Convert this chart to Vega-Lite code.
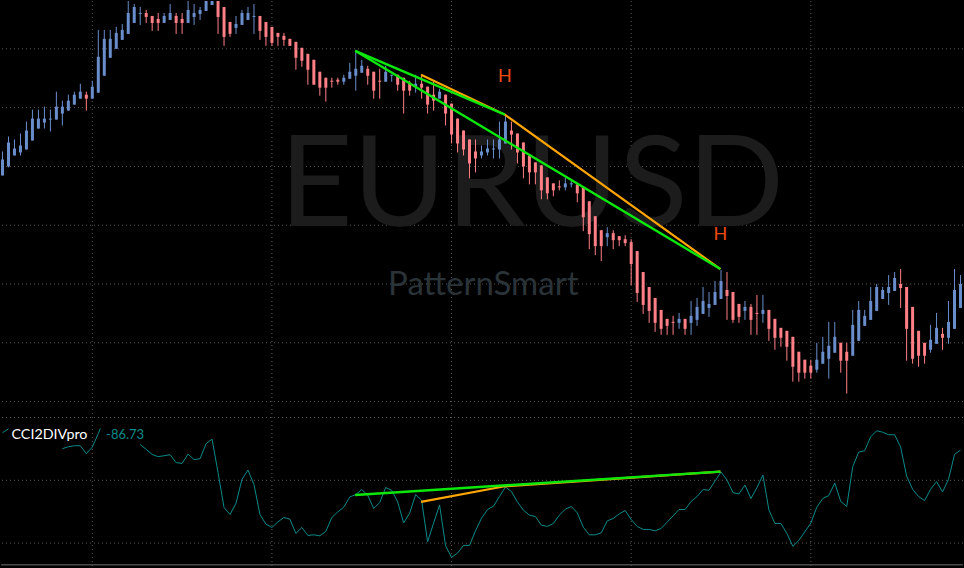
{
"$schema":"https://vega.github.io/schema/vega-lite/v6.json",
"width":964,"height":568,"padding":0,
"autosize":{"type":"fit","contains":"padding"},
"background":"#000000",
"config":{"view":{"stroke":null},"scale":{"continuousPadding":0}},
"datasets":{
"candles":[
{"i":0,"h":417,"o":393,"c":409,"l":393},{"i":1,"h":432,"o":402,"c":426,"l":401},{"i":2,"h":429,"o":413,"c":420,"l":413},{"i":3,"h":435,"o":416,"c":423,"l":413},{"i":4,"h":447,"o":419,"c":438,"l":419},{"i":5,"h":459,"o":428,"c":450,"l":428},{"i":6,"h":459,"o":440,"c":450,"l":440},{"i":7,"h":462,"o":446,"c":450,"l":440},{"i":8,"h":459,"o":449,"c":450,"l":437},{"i":9,"h":477,"o":449,"c":462,"l":449},
{"i":10,"h":468,"o":455,"c":462,"l":443},{"i":11,"h":474,"o":458,"c":468,"l":458},{"i":12,"h":477,"o":464,"c":474,"l":464},{"i":13,"h":485,"o":470,"c":477,"l":470},{"i":14,"h":477,"o":474,"c":470,"l":458},{"i":15,"h":488,"o":470,"c":482,"l":470},{"i":16,"h":539,"o":476,"c":512,"l":476},{"i":17,"h":539,"o":493,"c":530,"l":493},{"i":18,"h":539,"o":511,"c":530,"l":511},{"i":19,"h":542,"o":520,"c":536,"l":520},
{"i":20,"h":545,"o":529,"c":539,"l":529},{"i":21,"h":575,"o":535,"c":556,"l":535},{"i":22,"h":565,"o":546,"c":562,"l":546},{"i":23,"h":562,"o":555,"c":556,"l":544},{"i":24,"h":559,"o":556,"c":552,"l":546},{"i":25,"h":553,"o":553,"c":546,"l":538},{"i":26,"h":556,"o":550,"c":546,"l":538},{"i":27,"h":556,"o":546,"c":553,"l":546},{"i":28,"h":565,"o":549,"c":556,"l":549},{"i":29,"h":556,"o":553,"c":546,"l":535},
{"i":30,"h":556,"o":550,"c":546,"l":535},{"i":31,"h":568,"o":546,"c":559,"l":546},{"i":32,"h":565,"o":552,"c":556,"l":544},{"i":33,"h":562,"o":555,"c":559,"l":549},{"i":34,"h":575,"o":558,"c":573,"l":558},{"i":35,"h":572,"o":564,"c":572,"l":564},{"i":36,"h":575,"o":572,"c":552,"l":535},{"i":37,"h":562,"o":562,"c":532,"l":523},{"i":38,"h":547,"o":547,"c":535,"l":532},{"i":39,"h":553,"o":541,"c":545,"l":535},
{"i":40,"h":559,"o":544,"c":556,"l":544},{"i":41,"h":562,"o":549,"c":556,"l":549},{"i":42,"h":565,"o":552,"c":553,"l":535},{"i":43,"h":553,"o":553,"c":538,"l":529},{"i":44,"h":547,"o":547,"c":532,"l":523},{"i":45,"h":542,"o":542,"c":526,"l":523},{"i":46,"h":536,"o":536,"c":532,"l":523},{"i":47,"h":536,"o":533,"c":529,"l":523},{"i":48,"h":530,"o":530,"c":523,"l":523},{"i":49,"h":527,"o":527,"c":511,"l":499},
{"i":50,"h":521,"o":521,"c":508,"l":502},{"i":51,"h":515,"o":515,"c":499,"l":484},{"i":52,"h":509,"o":509,"c":484,"l":484},{"i":53,"h":497,"o":497,"c":481,"l":473},{"i":54,"h":491,"o":491,"c":481,"l":467},{"i":55,"h":491,"o":488,"c":487,"l":481},{"i":56,"h":491,"o":489,"c":487,"l":484},{"i":57,"h":494,"o":487,"c":491,"l":484},{"i":58,"h":506,"o":490,"c":497,"l":490},{"i":59,"h":518,"o":493,"c":500,"l":478},
{"i":60,"h":509,"o":496,"c":503,"l":496},{"i":61,"h":503,"o":500,"c":493,"l":484},{"i":62,"h":497,"o":497,"c":478,"l":470},{"i":63,"h":500,"o":488,"c":487,"l":470},{"i":64,"h":503,"o":487,"c":497,"l":487},{"i":65,"h":494,"o":493,"c":494,"l":487},{"i":66,"h":494,"o":494,"c":484,"l":478},{"i":67,"h":491,"o":491,"c":478,"l":455},{"i":68,"h":488,"o":486,"c":478,"l":473},{"i":69,"h":494,"o":482,"c":485,"l":476},
{"i":70,"h":494,"o":485,"c":481,"l":470},{"i":71,"h":482,"o":482,"c":464,"l":455},{"i":72,"h":488,"o":474,"c":468,"l":458},{"i":73,"h":480,"o":470,"c":477,"l":470},{"i":74,"h":474,"o":474,"c":455,"l":443},{"i":75,"h":465,"o":465,"c":434,"l":425},{"i":76,"h":450,"o":450,"c":425,"l":416},{"i":77,"h":438,"o":438,"c":419,"l":413},{"i":78,"h":429,"o":429,"c":405,"l":390},{"i":79,"h":429,"o":417,"c":410,"l":396},
{"i":80,"h":423,"o":413,"c":417,"l":410},{"i":81,"h":429,"o":416,"c":420,"l":413},{"i":82,"h":429,"o":419,"c":420,"l":410},{"i":83,"h":447,"o":419,"c":429,"l":410},{"i":84,"h":453,"o":425,"c":447,"l":425},{"i":85,"h":447,"o":438,"c":434,"l":419},{"i":86,"h":435,"o":435,"c":416,"l":405},{"i":87,"h":426,"o":426,"c":402,"l":390},{"i":88,"h":413,"o":413,"c":396,"l":384},{"i":89,"h":406,"o":406,"c":396,"l":384},
{"i":90,"h":403,"o":403,"c":378,"l":369},{"i":91,"h":391,"o":391,"c":375,"l":369},{"i":92,"h":385,"o":385,"c":378,"l":372},{"i":93,"h":388,"o":382,"c":381,"l":378},{"i":94,"h":391,"o":381,"c":385,"l":378},{"i":95,"h":388,"o":384,"c":385,"l":381},{"i":96,"h":385,"o":384,"c":375,"l":366},{"i":97,"h":381,"o":381,"c":351,"l":337},{"i":98,"h":367,"o":367,"c":334,"l":319},{"i":99,"h":352,"o":352,"c":322,"l":313},
{"i":100,"h":338,"o":338,"c":322,"l":307},{"i":101,"h":341,"o":331,"c":335,"l":322},{"i":102,"h":338,"o":335,"c":328,"l":319},{"i":103,"h":332,"o":332,"c":328,"l":322},{"i":104,"h":333,"o":329,"c":325,"l":322},{"i":105,"h":329,"o":326,"c":304,"l":283},{"i":106,"h":317,"o":317,"c":275,"l":266},{"i":107,"h":296,"o":296,"c":263,"l":254},{"i":108,"h":281,"o":281,"c":257,"l":245},{"i":109,"h":270,"o":270,"c":245,"l":236},
{"i":110,"h":258,"o":258,"c":239,"l":233},{"i":111,"h":249,"o":249,"c":242,"l":233},{"i":112,"h":252,"o":246,"c":245,"l":233},{"i":113,"h":255,"o":245,"c":249,"l":239},{"i":114,"h":249,"o":249,"c":239,"l":233},{"i":115,"h":267,"o":245,"c":252,"l":233},{"i":116,"h":270,"o":248,"c":261,"l":242},{"i":117,"h":281,"o":254,"c":267,"l":254},{"i":118,"h":276,"o":260,"c":264,"l":251},{"i":119,"h":287,"o":263,"c":276,"l":263},
{"i":120,"h":298,"o":269,"c":287,"l":269},{"i":121,"h":296,"o":278,"c":272,"l":248},{"i":122,"h":276,"o":276,"c":248,"l":245},{"i":123,"h":264,"o":264,"c":251,"l":245},{"i":124,"h":267,"o":257,"c":261,"l":248},{"i":125,"h":264,"o":261,"c":248,"l":233},{"i":126,"h":273,"o":255,"c":254,"l":233},{"i":127,"h":273,"o":254,"c":258,"l":245},{"i":128,"h":258,"o":258,"c":239,"l":227},{"i":129,"h":249,"o":249,"c":230,"l":218},
{"i":130,"h":240,"o":240,"c":230,"l":221},{"i":131,"h":237,"o":237,"c":221,"l":207},{"i":132,"h":231,"o":231,"c":201,"l":186},{"i":133,"h":216,"o":216,"c":195,"l":186},{"i":134,"h":208,"o":208,"c":195,"l":189},{"i":135,"h":208,"o":202,"c":195,"l":189},{"i":136,"h":225,"o":198,"c":208,"l":195},{"i":137,"h":231,"o":204,"c":216,"l":204},{"i":138,"h":246,"o":209,"c":222,"l":189},{"i":139,"h":246,"o":215,"c":231,"l":215},
{"i":140,"h":225,"o":225,"c":207,"l":195},{"i":141,"h":225,"o":216,"c":207,"l":174},{"i":142,"h":258,"o":212,"c":243,"l":212},{"i":143,"h":267,"o":227,"c":258,"l":227},{"i":144,"h":258,"o":242,"c":252,"l":242},{"i":145,"h":281,"o":248,"c":267,"l":248},{"i":146,"h":284,"o":257,"c":281,"l":257},{"i":147,"h":281,"o":269,"c":278,"l":269},{"i":148,"h":293,"o":275,"c":281,"l":263},{"i":149,"h":296,"o":277,"c":290,"l":277},
{"i":150,"h":299,"o":284,"c":280,"l":260},{"i":151,"h":281,"o":281,"c":239,"l":207},{"i":152,"h":261,"o":261,"c":209,"l":204},{"i":153,"h":237,"o":237,"c":212,"l":201},{"i":154,"h":225,"o":225,"c":212,"l":204},{"i":155,"h":243,"o":218,"c":228,"l":215},{"i":156,"h":255,"o":224,"c":240,"l":224},{"i":157,"h":240,"o":234,"c":230,"l":218},{"i":158,"h":267,"o":230,"c":246,"l":224},{"i":159,"h":299,"o":239,"c":278,"l":239},{"i":160,"h":293,"o":260,"c":284,"l":260}
],
"cci":[
{"i":0,"v":134.7,"s":"a"},{"i":1,"v":138.7,"s":"a"},
{"i":10,"v":118.7,"s":"b"},{"i":11,"v":120.7,"s":"b"},{"i":12,"v":121.7,"s":"b"},{"i":13,"v":121.7,"s":"b"},{"i":14,"v":113.7,"s":"b"},{"i":15,"v":120.3,"s":"b"},{"i":16,"v":134,"s":"b"},{"i":16.33,"v":139,"s":"b"},
{"i":23,"v":123,"s":"c"},{"i":24,"v":118,"s":"c"},{"i":25,"v":113,"s":"c"},{"i":26,"v":110.7,"s":"c"},{"i":27,"v":111.7,"s":"c"},{"i":28,"v":112.7,"s":"c"},{"i":29,"v":104.7,"s":"c"},{"i":30,"v":104,"s":"c"},{"i":31,"v":113.3,"s":"c"},{"i":32,"v":107.7,"s":"c"},{"i":33,"v":108.7,"s":"c"},{"i":34,"v":123.7,"s":"c"},{"i":35,"v":128.3,"s":"c"},{"i":36,"v":94.7,"s":"c"},{"i":37,"v":59.7,"s":"c"},{"i":38,"v":52.7,"s":"c"},{"i":39,"v":64,"s":"c"},
{"i":40,"v":88,"s":"c"},{"i":41,"v":97.3,"s":"c"},{"i":42,"v":82.7,"s":"c"},{"i":43,"v":52.7,"s":"c"},{"i":44,"v":43,"s":"c"},{"i":45,"v":39.7,"s":"c"},{"i":46,"v":45.3,"s":"c"},{"i":47,"v":49.7,"s":"c"},{"i":48,"v":48,"s":"c"},{"i":49,"v":33.7,"s":"c"},{"i":50,"v":39.7,"s":"c"},{"i":51,"v":31.7,"s":"c"},{"i":52,"v":32.3,"s":"c"},{"i":53,"v":31.3,"s":"c"},{"i":54,"v":35.7,"s":"c"},{"i":55,"v":49.7,"s":"c"},{"i":56,"v":55.3,"s":"c"},{"i":57,"v":60,"s":"c"},{"i":58,"v":70.3,"s":"c"},{"i":59,"v":72.7,"s":"c"},
{"i":60,"v":77.7,"s":"c"},{"i":61,"v":72,"s":"c"},{"i":62,"v":58.7,"s":"c"},{"i":63,"v":64.7,"s":"c"},{"i":64,"v":79.7,"s":"c"},{"i":65,"v":77,"s":"c"},{"i":66,"v":65.3,"s":"c"},{"i":67,"v":44.3,"s":"c"},{"i":68,"v":54,"s":"c"},{"i":69,"v":72.7,"s":"c"},{"i":70,"v":67,"s":"c"},{"i":71,"v":25.3,"s":"c"},{"i":72,"v":44,"s":"c"},{"i":73,"v":62.3,"s":"c"},{"i":74,"v":21.3,"s":"c"},{"i":75,"v":9.7,"s":"c"},{"i":76,"v":14,"s":"c"},{"i":77,"v":21.7,"s":"c"},{"i":78,"v":21.7,"s":"c"},{"i":79,"v":36.3,"s":"c"},
{"i":80,"v":49,"s":"c"},{"i":81,"v":57.7,"s":"c"},{"i":82,"v":61,"s":"c"},{"i":83,"v":70.7,"s":"c"},{"i":84,"v":80.3,"s":"c"},{"i":85,"v":75.7,"s":"c"},{"i":86,"v":65.3,"s":"c"},{"i":87,"v":57,"s":"c"},{"i":88,"v":52,"s":"c"},{"i":89,"v":50.7,"s":"c"},{"i":90,"v":42,"s":"c"},{"i":91,"v":40.7,"s":"c"},{"i":92,"v":43.7,"s":"c"},{"i":93,"v":52,"s":"c"},{"i":94,"v":58,"s":"c"},{"i":95,"v":60.7,"s":"c"},{"i":96,"v":54.3,"s":"c"},{"i":97,"v":40,"s":"c"},{"i":98,"v":32.3,"s":"c"},{"i":99,"v":32.3,"s":"c"},
{"i":100,"v":34.3,"s":"c"},{"i":101,"v":46.3,"s":"c"},{"i":102,"v":48.7,"s":"c"},{"i":103,"v":53.3,"s":"c"},{"i":104,"v":56.7,"s":"c"},{"i":105,"v":47.7,"s":"c"},{"i":106,"v":40.7,"s":"c"},{"i":107,"v":37.7,"s":"c"},{"i":108,"v":37.7,"s":"c"},{"i":109,"v":36.3,"s":"c"},{"i":110,"v":38.7,"s":"c"},{"i":111,"v":45,"s":"c"},{"i":112,"v":51.3,"s":"c"},{"i":113,"v":57.7,"s":"c"},{"i":114,"v":57.7,"s":"c"},{"i":115,"v":65.7,"s":"c"},{"i":116,"v":70.7,"s":"c"},{"i":117,"v":77.7,"s":"c"},{"i":118,"v":77,"s":"c"},{"i":119,"v":86.3,"s":"c"},
{"i":120,"v":95.3,"s":"c"},{"i":121,"v":87.3,"s":"c"},{"i":122,"v":74.7,"s":"c"},{"i":123,"v":73.3,"s":"c"},{"i":124,"v":82.3,"s":"c"},{"i":125,"v":68.7,"s":"c"},{"i":126,"v":79.7,"s":"c"},{"i":127,"v":92.3,"s":"c"},{"i":128,"v":57.3,"s":"c"},{"i":129,"v":43.7,"s":"c"},{"i":130,"v":43.7,"s":"c"},{"i":131,"v":33.7,"s":"c"},{"i":132,"v":20.7,"s":"c"},{"i":133,"v":26.7,"s":"c"},{"i":134,"v":35.3,"s":"c"},{"i":135,"v":44,"s":"c"},{"i":136,"v":60,"s":"c"},{"i":137,"v":68.7,"s":"c"},{"i":138,"v":71.7,"s":"c"},{"i":139,"v":84.3,"s":"c"},
{"i":140,"v":65.7,"s":"c"},{"i":141,"v":60.7,"s":"c"},{"i":142,"v":100.7,"s":"c"},{"i":143,"v":115.3,"s":"c"},{"i":144,"v":116.7,"s":"c"},{"i":145,"v":130.7,"s":"c"},{"i":146,"v":136.7,"s":"c"},{"i":147,"v":135.3,"s":"c"},{"i":148,"v":132.7,"s":"c"},{"i":149,"v":132.7,"s":"c"},{"i":150,"v":120.3,"s":"c"},{"i":151,"v":91.3,"s":"c"},{"i":152,"v":78,"s":"c"},{"i":153,"v":70.7,"s":"c"},{"i":154,"v":66.7,"s":"c"},{"i":155,"v":78,"s":"c"},{"i":156,"v":85.7,"s":"c"},{"i":157,"v":75.3,"s":"c"},{"i":158,"v":88,"s":"c"},{"i":159,"v":113,"s":"c"},{"i":160,"v":117.3,"s":"c"}
],
"trends":[
{"line":"o1","kind":"orange","i":69.9,"v":494},{"line":"o1","kind":"orange","i":83.9,"v":454},{"line":"o1","kind":"orange","i":119.9,"v":299},
{"line":"o2","kind":"orange","i":69.9,"v":65.3},{"line":"o2","kind":"orange","i":83.9,"v":81},{"line":"o2","kind":"orange","i":119.9,"v":95.7},
{"line":"g1","kind":"green","i":58.9,"v":518},{"line":"g1","kind":"green","i":83.9,"v":454},
{"line":"g2","kind":"green","i":58.9,"v":518},{"line":"g2","kind":"green","i":119.9,"v":299},
{"line":"g3","kind":"green","i":58.9,"v":72.3},{"line":"g3","kind":"green","i":119.9,"v":95.7}
]
},
"layer":[
{"data":{"values":[{"v":520},{"v":461},{"v":402},{"v":343},{"v":284},{"v":225},{"v":166},{"v":150},{"v":87},{"v":24}]},
 "mark":{"type":"rule","color":"#5a5a5a","strokeWidth":1,"strokeDash":[1,3]},
 "encoding":{"y":{"field":"v","type":"quantitative","axis":null,"scale":{"domain":[0,568]}}}},
{"data":{"values":[{"i":15},{"i":45},{"i":75},{"i":105},{"i":135}]},
 "mark":{"type":"rule","color":"#5a5a5a","strokeWidth":1,"strokeDash":[1,3]},
 "encoding":{"x":{"field":"i","type":"quantitative","axis":null,"scale":{"domain":[-0.25,160.416667]}}}},
{"data":{"values":[{"v":2.3}]},
 "mark":{"type":"rule","color":"#4a4a4a","strokeWidth":1.5},
 "encoding":{"y":{"field":"v","type":"quantitative","axis":null,"scale":{"domain":[0,568]}}}},
{"data":{"values":[{"i":88.4,"v":380,"t":"EURUSD"}]},
 "mark":{"type":"text","font":"Lato","fontSize":127,"color":"#1c1c1c","align":"center","baseline":"middle"},
 "encoding":{"x":{"field":"i","type":"quantitative","axis":null,"scale":{"domain":[-0.25,160.416667]}},"y":{"field":"v","type":"quantitative","axis":null,"scale":{"domain":[0,568]}},"text":{"field":"t"}}},
{"data":{"values":[{"i":80.3,"v":283,"t":"PatternSmart"}]},
 "mark":{"type":"text","font":"Lato","fontSize":33,"color":"#2a3338","align":"center","baseline":"middle"},
 "encoding":{"x":{"field":"i","type":"quantitative","axis":null,"scale":{"domain":[-0.25,160.416667]}},"y":{"field":"v","type":"quantitative","axis":null,"scale":{"domain":[0,568]}},"text":{"field":"t"}}},
{"data":{"name":"candles"},
 "mark":{"type":"rule","strokeWidth":1,"clip":true},
 "encoding":{"x":{"field":"i","type":"quantitative","axis":null,"scale":{"domain":[-0.25,160.416667]}},"y":{"field":"h","type":"quantitative","axis":null,"scale":{"domain":[0,568]}},"y2":{"field":"l"},
 "color":{"condition":{"test":"datum.c>datum.o","value":"#6a8ecc"},"value":"#ff7f86"}}},
{"data":{"name":"candles"},
 "mark":{"type":"bar","size":3,"clip":true},
 "encoding":{"x":{"field":"i","type":"quantitative","axis":null,"scale":{"domain":[-0.25,160.416667]}},"y":{"field":"o","type":"quantitative","axis":null,"scale":{"domain":[0,568]}},"y2":{"field":"c"},
 "color":{"condition":{"test":"datum.c>datum.o","value":"#6a8ecc"},"value":"#ff7f86"}}},
{"data":{"name":"cci"},
 "mark":{"type":"line","color":"#0b8a8a","strokeWidth":1,"clip":true},
 "encoding":{"x":{"field":"i","type":"quantitative","axis":null,"scale":{"domain":[-0.25,160.416667]}},"y":{"field":"v","type":"quantitative","axis":null,"scale":{"domain":[0,568]}},"detail":{"field":"s"}}},
{"data":{"name":"trends"},
 "transform":[{"filter":"datum.kind=='orange'"}],
 "mark":{"type":"line","color":"#ffa500","strokeWidth":2.2,"clip":true},
 "encoding":{"x":{"field":"i","type":"quantitative","axis":null,"scale":{"domain":[-0.25,160.416667]}},"y":{"field":"v","type":"quantitative","axis":null,"scale":{"domain":[0,568]}},"detail":{"field":"line"}}},
{"data":{"name":"trends"},
 "transform":[{"filter":"datum.kind=='green'"}],
 "mark":{"type":"line","color":"#0ce80c","strokeWidth":2.4,"clip":true},
 "encoding":{"x":{"field":"i","type":"quantitative","axis":null,"scale":{"domain":[-0.25,160.416667]}},"y":{"field":"v","type":"quantitative","axis":null,"scale":{"domain":[0,568]}},"detail":{"field":"line"}}},
{"data":{"values":[{"i":83.9,"v":492,"t":"H"},{"i":119.9,"v":333,"t":"H"}]},
 "mark":{"type":"text","font":"Lato","fontSize":18,"color":"#f04a10","align":"center","baseline":"middle"},
 "encoding":{"x":{"field":"i","type":"quantitative","axis":null,"scale":{"domain":[-0.25,160.416667]}},"y":{"field":"v","type":"quantitative","axis":null,"scale":{"domain":[0,568]}},"text":{"field":"t"}}},
{"data":{"values":[{"i":1.5,"v":132,"t":"CCI2DIVpro"}]},
 "mark":{"type":"text","font":"Lato","fontSize":14.3,"color":"#ffffff","align":"left","baseline":"middle"},
 "encoding":{"x":{"field":"i","type":"quantitative","axis":null,"scale":{"domain":[-0.25,160.416667]}},"y":{"field":"v","type":"quantitative","axis":null,"scale":{"domain":[0,568]}},"text":{"field":"t"}}},
{"data":{"values":[{"i":17.3,"v":132,"t":"-86.73"}]},
 "mark":{"type":"text","font":"Lato","fontSize":13,"color":"#0d8d85","align":"left","baseline":"middle"},
 "encoding":{"x":{"field":"i","type":"quantitative","axis":null,"scale":{"domain":[-0.25,160.416667]}},"y":{"field":"v","type":"quantitative","axis":null,"scale":{"domain":[0,568]}},"text":{"field":"t"}}}
]
}
